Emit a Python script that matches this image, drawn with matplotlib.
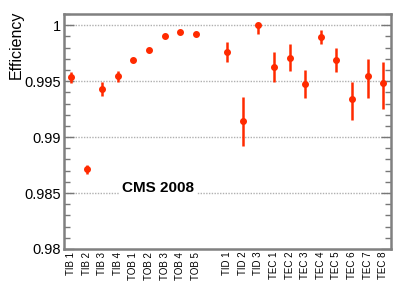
import matplotlib
matplotlib.use("Agg")
import matplotlib.pyplot as plt
from matplotlib.ticker import MultipleLocator, FixedLocator
import numpy as np

plt.rcParams["font.family"] = ["Liberation Sans", "DejaVu Sans"]

labels = ["TIB 1", "TIB 2", "TIB 3", "TIB 4", "TOB 1", "TOB 2", "TOB 3", "TOB 4", "TOB 5",
          "TID 1", "TID 2", "TID 3", "TEC 1", "TEC 2", "TEC 3", "TEC 4", "TEC 5", "TEC 6", "TEC 7", "TEC 8"]
positions = [0, 1, 2, 3, 4, 5, 6, 7, 8, 10, 11, 12, 13, 14, 15, 16, 17, 18, 19, 20]
efficiency = [0.99536, 0.98714, 0.99431, 0.99545, 0.99688, 0.99779, 0.99902, 0.99935, 0.99922,
              0.99762, 0.99140, 1.00000, 0.99628, 0.99711, 0.99473, 0.99896, 0.99688, 0.99339, 0.99542, 0.99479]
err_low = [0.00050, 0.00040, 0.00065, 0.00055, 0.00005, 0.00005, 0.00003, 0.00003, 0.00003,
           0.00090, 0.00220, 0.00075, 0.00135, 0.00120, 0.00125, 0.00060, 0.00110, 0.00185, 0.00190, 0.00230]
err_high = [0.00050, 0.00040, 0.00065, 0.00050, 0.00005, 0.00005, 0.00003, 0.00003, 0.00003,
            0.00090, 0.00220, 0.00008, 0.00135, 0.00120, 0.00125, 0.00060, 0.00110, 0.00155, 0.00155, 0.00190]

fig = plt.figure(figsize=(3.99, 2.86), dpi=100)
ax = fig.add_axes([64/399, 1-249/286, (391-64)/399, (249-14)/286])

red = "#ff2a00"
ax.errorbar(positions, efficiency, yerr=[err_low, err_high], fmt="o", color=red,
            markersize=4, elinewidth=1.8, capsize=0, zorder=3)

ax.set_xlim(-0.45, 20.5)
ax.set_ylim(0.98, 1.001)

ax.yaxis.set_major_locator(FixedLocator([0.98, 0.985, 0.99, 0.995, 1.0]))
ax.yaxis.set_minor_locator(MultipleLocator(0.001))
ax.set_yticklabels(["0.98", "0.985", "0.99", "0.995", "1"], fontsize=10.5)
ax.tick_params(axis="y", which="both", direction="in", right=True, left=True,
               color="#777777", width=1.0)
ax.tick_params(axis="y", which="major", length=7, pad=2)
ax.tick_params(axis="y", which="minor", length=4)

ax.set_xticks(positions)
ax.set_xticklabels(labels, rotation=90, fontsize=7)
ax.tick_params(axis="x", length=0, pad=2)

for yv in [0.985, 0.99, 0.995, 1.0]:
    ax.axhline(yv, color="#b0b0b0", linestyle=(0, (1, 1)), linewidth=1.0, zorder=1)

for s in ax.spines.values():
    s.set_color("#808080")
    s.set_linewidth(1.8)

ax.text(5.6, 0.98545, "CMS 2008", fontsize=11, fontweight="bold", ha="center", va="center",
        bbox=dict(facecolor="white", edgecolor="none", pad=2), zorder=2)

fig.text(16/399, 1-11/286, "Efficiency", rotation=90, ha="center", va="top", fontsize=11.5)

fig.savefig("out.png", dpi=100)
